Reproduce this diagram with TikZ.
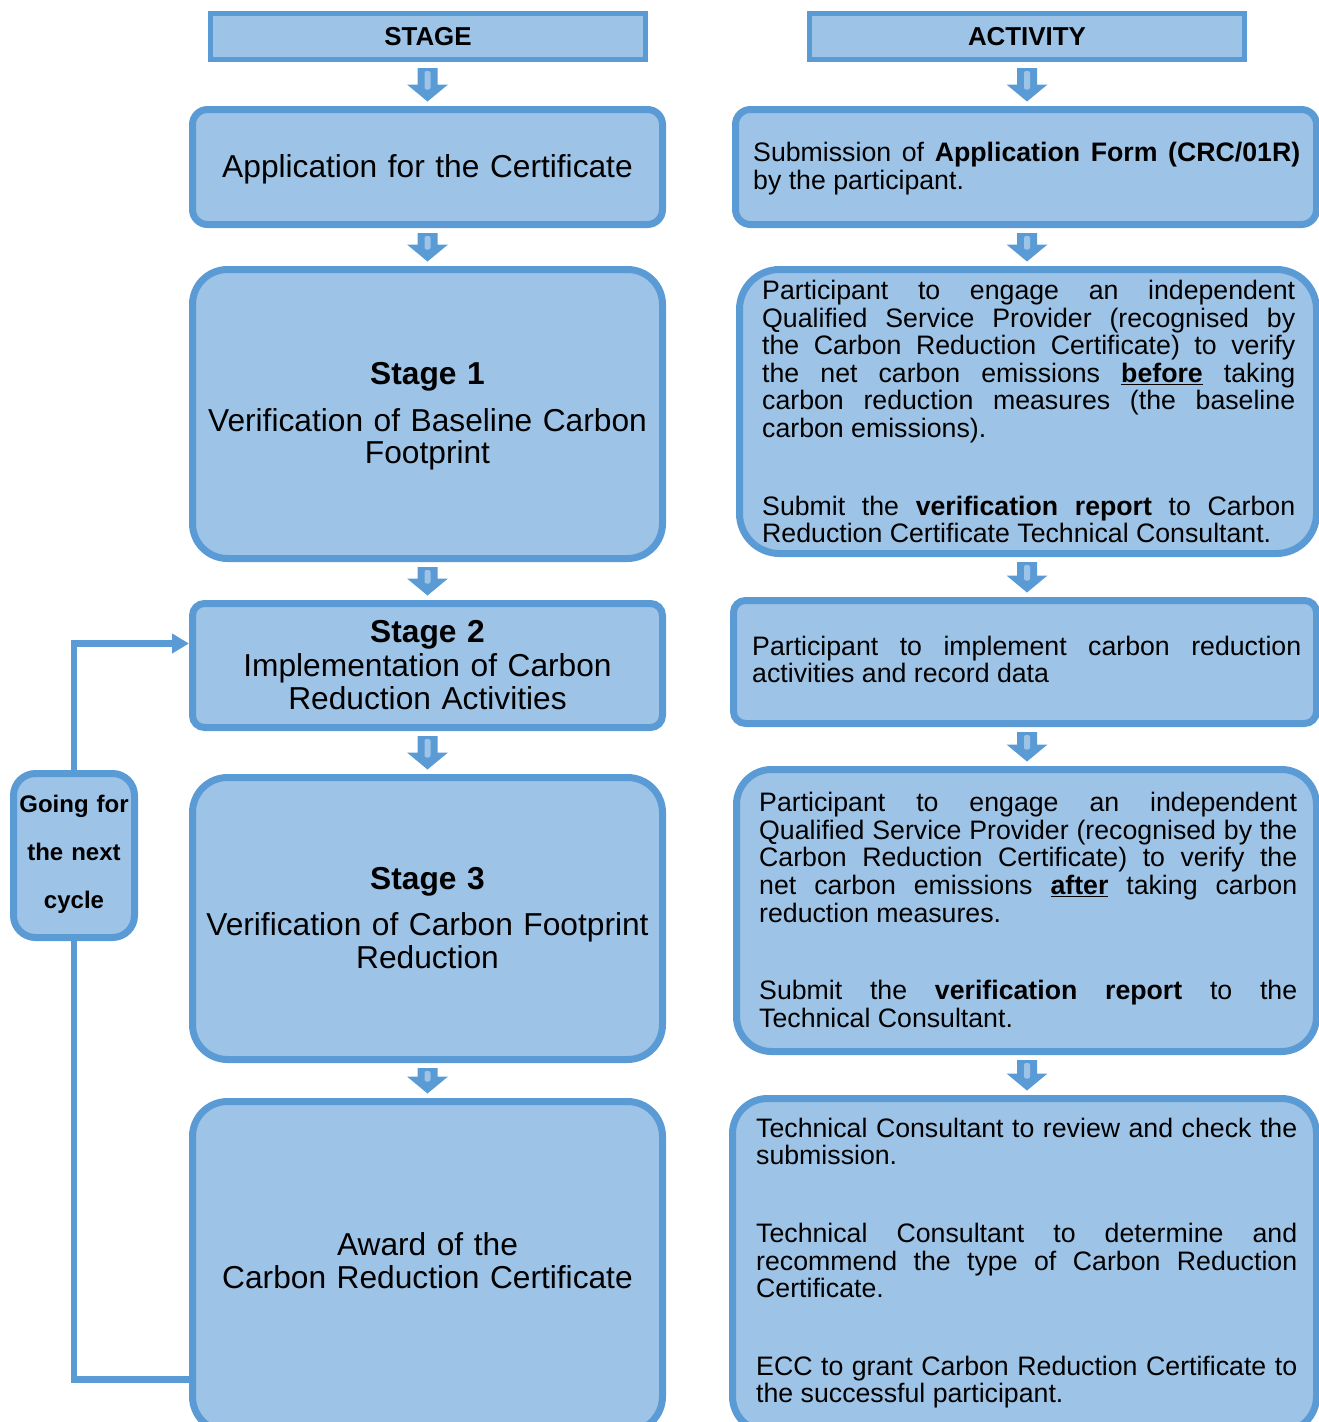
\documentclass[tikz,border=0pt]{standalone}
\usepackage{fontspec}
\setmainfont{Liberation Sans}
\usetikzlibrary{calc,arrows.meta}
\definecolor{boxfill}{HTML}{9DC3E6}
\definecolor{boxline}{HTML}{5B9BD5}
\newcommand\blkarr[3]{%
  \fill[boxline] ($(#3 |- #1.south)+(-10,8.5)$) -- ($(#3 |- #1.south)+(10,8.5)$)
    -- ($(#3 |- #2.north)+(10,-25)$) -- ($(#3 |- #2.north)+(20.5,-25)$)
    -- ($(#3 |- #2.north)+(0,-8)$) -- ($(#3 |- #2.north)+(-20.5,-25)$)
    -- ($(#3 |- #2.north)+(-10,-25)$) -- cycle;
  \fill[boxfill, rounded corners=2pt] ($(#3 |- #1.south)+(-3,11.5)$) rectangle ($(#3 |- #2.north)+(3,-20)$);
}
\begin{document}
\begin{tikzpicture}[x=1pt,y=-1pt,
  box/.style={draw=boxline, fill=boxfill, line width=7pt, inner sep=0pt, outer sep=0pt, anchor=north west},
  hdr/.style={draw=boxline, fill=boxfill, line width=5pt, inner sep=0pt, outer sep=0pt, font=\fontsize{25.9}{30}\selectfont\bfseries},
  ltext/.style={anchor=base, text width=470pt, align=center, inner sep=0pt, font=\fontsize{31.7}{33}\selectfont},
  rtext/.style={anchor=base west, align=justify, inner sep=0pt, font=\fontsize{26.7}{27.6}\selectfont},
  gtext/.style={anchor=base, text width=121pt, align=center, inner sep=0pt, font=\fontsize{24}{48}\selectfont\bfseries},
  loopline/.style={draw=boxline, line width=6.5pt}]
\useasboundingbox (0,0) rectangle (1319,1422);
\clip (0,0) rectangle (1319,1422);
\coordinate (LC) at (427.5,0);
\coordinate (RC) at (1027,0);

% headers
\node[hdr, minimum width=435pt, minimum height=46pt] (HS) at (428,36.5) {STAGE};
\node[hdr, minimum width=435pt, minimum height=46pt] (HA) at (1027,36.5) {ACTIVITY};

% left column boxes
\node[box, rounded corners=15pt, minimum width=470pt, minimum height=115pt] (A) at (192.5,109.5) {};
\node[box, rounded corners=35pt, minimum width=470pt, minimum height=289pt] (S1) at (192.5,269.5) {};
\node[box, rounded corners=12pt, minimum width=470pt, minimum height=124pt] (S2) at (192.5,603.5) {};
\node[box, rounded corners=35pt, minimum width=470pt, minimum height=282pt] (S3) at (192.5,777.5) {};
\node[box, rounded corners=35pt, minimum width=470pt, minimum height=330pt] (AW) at (192.5,1101.5) {};

% right column boxes
\node[box, rounded corners=15pt, minimum width=581pt, minimum height=115pt] (R1) at (735.5,109.5) {};
\node[box, rounded corners=40pt, minimum width=577pt, minimum height=284pt] (R2) at (739.5,269.5) {};
\node[box, rounded corners=12pt, minimum width=583pt, minimum height=123pt] (R3) at (733.5,600.5) {};
\node[box, rounded corners=35pt, minimum width=580pt, minimum height=282pt] (R4) at (736.5,769.5) {};
\node[box, rounded corners=35pt, minimum width=584pt, minimum height=333pt] (R5) at (732.5,1098.5) {};

% cycle box
\node[box, rounded corners=22pt, minimum width=121pt, minimum height=164pt] (G) at (13.5,773.5) {};

% block arrows
\blkarr{HS}{A}{LC}
\blkarr{A}{S1}{LC}
\blkarr{S1}{S2}{LC}
\blkarr{S2}{S3}{LC}
\blkarr{S3}{AW}{LC}
\blkarr{HA}{R1}{RC}
\blkarr{R1}{R2}{RC}
\blkarr{R2}{R3}{RC}
\blkarr{R3}{R4}{RC}
\blkarr{R4}{R5}{RC}

% loop connector
\draw[loopline, -{Triangle[length=17pt,width=19pt]}, shorten >=3.5pt] (G.north) |- ($(S2.north west)+(0,40)$);
\draw[loopline] (G.south) |- ($(AW.north west)+(0,278)$);

% left texts
\node[ltext] (TA) at (427.5,177) {Application for the Certificate};
\node[ltext] (T1) at (427.5,384) {\textbf{Stage 1}\\[14pt]Verification of Baseline Carbon\\[-0.5pt]Footprint};
\node[ltext] (T2) at (427.5,642) {\textbf{Stage 2}\\[1pt]Implementation of Carbon\\Reduction Activities};
\node[ltext] (T3) at (427.5,889) {\textbf{Stage 3}\\[13pt]Verification of Carbon Footprint\\Reduction};
\node[ltext] (T4) at (427.5,1255) {Award of the\\Carbon Reduction Certificate};

% cycle text
\node[gtext] (GT) at (74,812) {Going for\\the next\\cycle};

% right texts
\node[rtext, text width=547pt] (TR1) at (753,161.7) {Submission of \textbf{Application Form (CRC/01R)}\linebreak by the participant.};
\node[rtext, text width=533pt] (TR2) at (762,299.5) {Participant to engage an independent\linebreak Qualified Service Provider (recognised by\linebreak the Carbon Reduction Certificate) to verify\linebreak the net carbon emissions \underline{\textbf{before}} taking\linebreak carbon reduction measures (the baseline\linebreak carbon emissions).\par\vspace{50pt}Submit the \textbf{verification report} to Carbon\linebreak Reduction Certificate Technical Consultant.};
\node[rtext, text width=549pt] (TR3) at (752,655) {Participant to implement carbon reduction\linebreak activities and record data};
\node[rtext, text width=538pt] (TR4) at (759,811.7) {Participant to engage an independent\linebreak Qualified Service Provider (recognised by the\linebreak Carbon Reduction Certificate) to verify the\linebreak net carbon emissions \underline{\textbf{after}} taking carbon\linebreak reduction measures.\par\vspace{50pt}Submit the \textbf{verification report} to the\linebreak Technical Consultant.};
\node[rtext, text width=541pt] (TR5) at (756,1137.3) {Technical Consultant to review and check the\linebreak submission.\par\vspace{50pt}Technical Consultant to determine and\linebreak recommend the type of Carbon Reduction\linebreak Certificate.\par\vspace{50pt}ECC to grant Carbon Reduction Certificate to\linebreak the successful participant.};
\end{tikzpicture}
\end{document}
